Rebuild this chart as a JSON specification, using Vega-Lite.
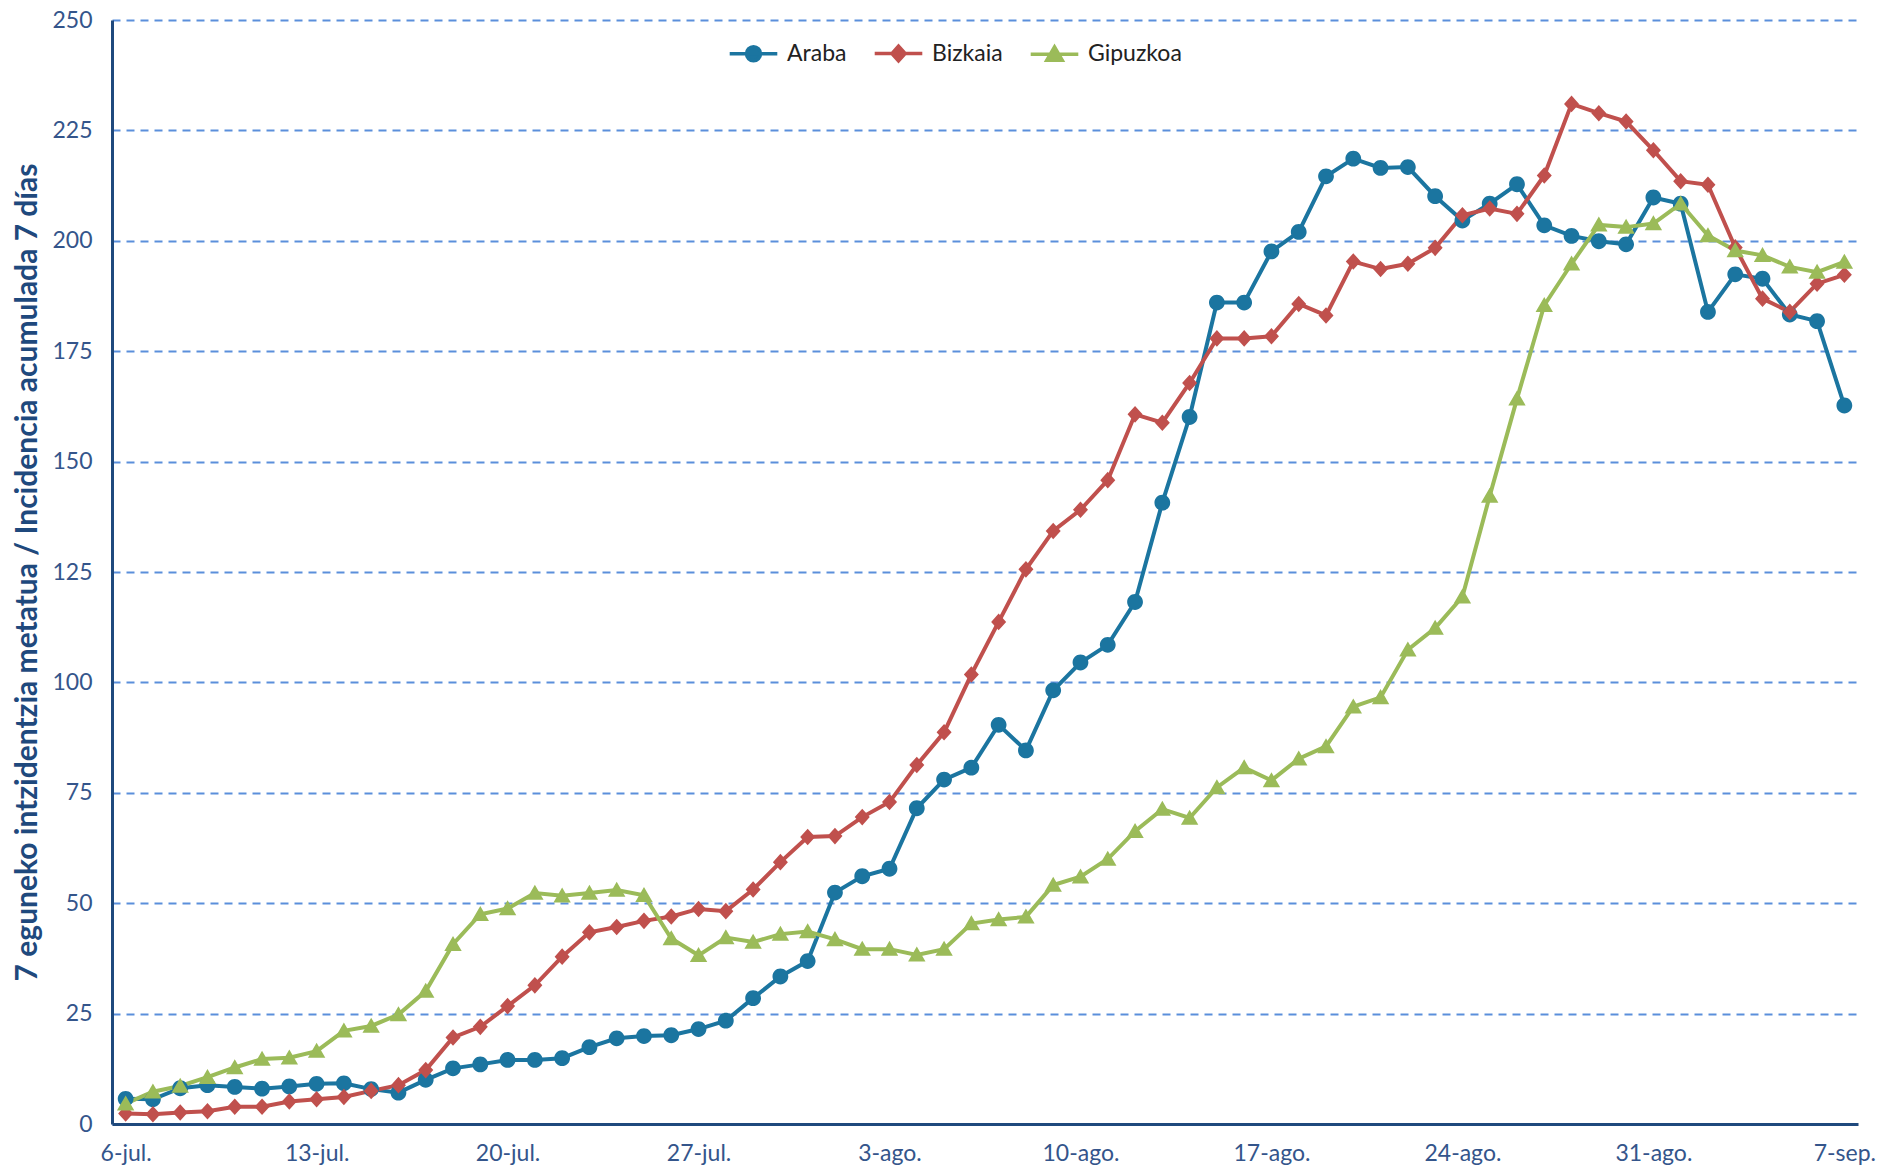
{
"$schema": "https://vega.github.io/schema/vega-lite/v6.json",
"width": 1746,
"height": 1104,
"autosize": {"type": "none"},
"padding": {"left": 112, "top": 20, "right": 23, "bottom": 49},
"background": "white",
"config": {"view": {"stroke": null}, "font": "Lato"},
"data": {"values": [
{"fecha":"2020-07-06","territorio":"Araba","valor":5.7},
{"fecha":"2020-07-07","territorio":"Araba","valor":5.6},
{"fecha":"2020-07-08","territorio":"Araba","valor":8.1},
{"fecha":"2020-07-09","territorio":"Araba","valor":8.8},
{"fecha":"2020-07-10","territorio":"Araba","valor":8.4},
{"fecha":"2020-07-11","territorio":"Araba","valor":8.0},
{"fecha":"2020-07-12","territorio":"Araba","valor":8.5},
{"fecha":"2020-07-13","territorio":"Araba","valor":9.1},
{"fecha":"2020-07-14","territorio":"Araba","valor":9.2},
{"fecha":"2020-07-15","territorio":"Araba","valor":7.9},
{"fecha":"2020-07-16","territorio":"Araba","valor":7.1},
{"fecha":"2020-07-17","territorio":"Araba","valor":10.0},
{"fecha":"2020-07-18","territorio":"Araba","valor":12.6},
{"fecha":"2020-07-19","territorio":"Araba","valor":13.5},
{"fecha":"2020-07-20","territorio":"Araba","valor":14.5},
{"fecha":"2020-07-21","territorio":"Araba","valor":14.5},
{"fecha":"2020-07-22","territorio":"Araba","valor":14.9},
{"fecha":"2020-07-23","territorio":"Araba","valor":17.4},
{"fecha":"2020-07-24","territorio":"Araba","valor":19.4},
{"fecha":"2020-07-25","territorio":"Araba","valor":19.9},
{"fecha":"2020-07-26","territorio":"Araba","valor":20.1},
{"fecha":"2020-07-27","territorio":"Araba","valor":21.5},
{"fecha":"2020-07-28","territorio":"Araba","valor":23.4},
{"fecha":"2020-07-29","territorio":"Araba","valor":28.5},
{"fecha":"2020-07-30","territorio":"Araba","valor":33.4},
{"fecha":"2020-07-31","territorio":"Araba","valor":36.9},
{"fecha":"2020-08-01","territorio":"Araba","valor":52.4},
{"fecha":"2020-08-02","territorio":"Araba","valor":56.1},
{"fecha":"2020-08-03","territorio":"Araba","valor":57.8},
{"fecha":"2020-08-04","territorio":"Araba","valor":71.5},
{"fecha":"2020-08-05","territorio":"Araba","valor":78.0},
{"fecha":"2020-08-06","territorio":"Araba","valor":80.7},
{"fecha":"2020-08-07","territorio":"Araba","valor":90.4},
{"fecha":"2020-08-08","territorio":"Araba","valor":84.6},
{"fecha":"2020-08-09","territorio":"Araba","valor":98.2},
{"fecha":"2020-08-10","territorio":"Araba","valor":104.5},
{"fecha":"2020-08-11","territorio":"Araba","valor":108.5},
{"fecha":"2020-08-12","territorio":"Araba","valor":118.2},
{"fecha":"2020-08-13","territorio":"Araba","valor":140.7},
{"fecha":"2020-08-14","territorio":"Araba","valor":160.1},
{"fecha":"2020-08-15","territorio":"Araba","valor":186.0},
{"fecha":"2020-08-16","territorio":"Araba","valor":186.0},
{"fecha":"2020-08-17","territorio":"Araba","valor":197.6},
{"fecha":"2020-08-18","territorio":"Araba","valor":202.0},
{"fecha":"2020-08-19","territorio":"Araba","valor":214.6},
{"fecha":"2020-08-20","territorio":"Araba","valor":218.6},
{"fecha":"2020-08-21","territorio":"Araba","valor":216.5},
{"fecha":"2020-08-22","territorio":"Araba","valor":216.7},
{"fecha":"2020-08-23","territorio":"Araba","valor":210.1},
{"fecha":"2020-08-24","territorio":"Araba","valor":204.6},
{"fecha":"2020-08-25","territorio":"Araba","valor":208.4},
{"fecha":"2020-08-26","territorio":"Araba","valor":212.8},
{"fecha":"2020-08-27","territorio":"Araba","valor":203.5},
{"fecha":"2020-08-28","territorio":"Araba","valor":201.1},
{"fecha":"2020-08-29","territorio":"Araba","valor":199.9},
{"fecha":"2020-08-30","territorio":"Araba","valor":199.2},
{"fecha":"2020-08-31","territorio":"Araba","valor":209.8},
{"fecha":"2020-09-01","territorio":"Araba","valor":208.4},
{"fecha":"2020-09-02","territorio":"Araba","valor":183.9},
{"fecha":"2020-09-03","territorio":"Araba","valor":192.4},
{"fecha":"2020-09-04","territorio":"Araba","valor":191.4},
{"fecha":"2020-09-05","territorio":"Araba","valor":183.3},
{"fecha":"2020-09-06","territorio":"Araba","valor":181.8},
{"fecha":"2020-09-07","territorio":"Araba","valor":162.7},
{"fecha":"2020-07-06","territorio":"Bizkaia","valor":2.4},
{"fecha":"2020-07-07","territorio":"Bizkaia","valor":2.2},
{"fecha":"2020-07-08","territorio":"Bizkaia","valor":2.6},
{"fecha":"2020-07-09","territorio":"Bizkaia","valor":2.9},
{"fecha":"2020-07-10","territorio":"Bizkaia","valor":3.9},
{"fecha":"2020-07-11","territorio":"Bizkaia","valor":3.9},
{"fecha":"2020-07-12","territorio":"Bizkaia","valor":5.1},
{"fecha":"2020-07-13","territorio":"Bizkaia","valor":5.6},
{"fecha":"2020-07-14","territorio":"Bizkaia","valor":6.1},
{"fecha":"2020-07-15","territorio":"Bizkaia","valor":7.5},
{"fecha":"2020-07-16","territorio":"Bizkaia","valor":8.8},
{"fecha":"2020-07-17","territorio":"Bizkaia","valor":12.2},
{"fecha":"2020-07-18","territorio":"Bizkaia","valor":19.6},
{"fecha":"2020-07-19","territorio":"Bizkaia","valor":22.0},
{"fecha":"2020-07-20","territorio":"Bizkaia","valor":26.7},
{"fecha":"2020-07-21","territorio":"Bizkaia","valor":31.4},
{"fecha":"2020-07-22","territorio":"Bizkaia","valor":37.9},
{"fecha":"2020-07-23","territorio":"Bizkaia","valor":43.4},
{"fecha":"2020-07-24","territorio":"Bizkaia","valor":44.6},
{"fecha":"2020-07-25","territorio":"Bizkaia","valor":46.0},
{"fecha":"2020-07-26","territorio":"Bizkaia","valor":47.0},
{"fecha":"2020-07-27","territorio":"Bizkaia","valor":48.7},
{"fecha":"2020-07-28","territorio":"Bizkaia","valor":48.2},
{"fecha":"2020-07-29","territorio":"Bizkaia","valor":53.1},
{"fecha":"2020-07-30","territorio":"Bizkaia","valor":59.3},
{"fecha":"2020-07-31","territorio":"Bizkaia","valor":65.0},
{"fecha":"2020-08-01","territorio":"Bizkaia","valor":65.2},
{"fecha":"2020-08-02","territorio":"Bizkaia","valor":69.5},
{"fecha":"2020-08-03","territorio":"Bizkaia","valor":72.9},
{"fecha":"2020-08-04","territorio":"Bizkaia","valor":81.3},
{"fecha":"2020-08-05","territorio":"Bizkaia","valor":88.7},
{"fecha":"2020-08-06","territorio":"Bizkaia","valor":101.8},
{"fecha":"2020-08-07","territorio":"Bizkaia","valor":113.7},
{"fecha":"2020-08-08","territorio":"Bizkaia","valor":125.6},
{"fecha":"2020-08-09","territorio":"Bizkaia","valor":134.3},
{"fecha":"2020-08-10","territorio":"Bizkaia","valor":139.1},
{"fecha":"2020-08-11","territorio":"Bizkaia","valor":145.8},
{"fecha":"2020-08-12","territorio":"Bizkaia","valor":160.7},
{"fecha":"2020-08-13","territorio":"Bizkaia","valor":158.8},
{"fecha":"2020-08-14","territorio":"Bizkaia","valor":167.8},
{"fecha":"2020-08-15","territorio":"Bizkaia","valor":177.9},
{"fecha":"2020-08-16","territorio":"Bizkaia","valor":177.9},
{"fecha":"2020-08-17","territorio":"Bizkaia","valor":178.4},
{"fecha":"2020-08-18","territorio":"Bizkaia","valor":185.7},
{"fecha":"2020-08-19","territorio":"Bizkaia","valor":183.1},
{"fecha":"2020-08-20","territorio":"Bizkaia","valor":195.3},
{"fecha":"2020-08-21","territorio":"Bizkaia","valor":193.6},
{"fecha":"2020-08-22","territorio":"Bizkaia","valor":194.8},
{"fecha":"2020-08-23","territorio":"Bizkaia","valor":198.4},
{"fecha":"2020-08-24","territorio":"Bizkaia","valor":205.8},
{"fecha":"2020-08-25","territorio":"Bizkaia","valor":207.3},
{"fecha":"2020-08-26","territorio":"Bizkaia","valor":206.1},
{"fecha":"2020-08-27","territorio":"Bizkaia","valor":214.8},
{"fecha":"2020-08-28","territorio":"Bizkaia","valor":231.0},
{"fecha":"2020-08-29","territorio":"Bizkaia","valor":228.9},
{"fecha":"2020-08-30","territorio":"Bizkaia","valor":227.0},
{"fecha":"2020-08-31","territorio":"Bizkaia","valor":220.5},
{"fecha":"2020-09-01","territorio":"Bizkaia","valor":213.5},
{"fecha":"2020-09-02","territorio":"Bizkaia","valor":212.7},
{"fecha":"2020-09-03","territorio":"Bizkaia","valor":198.5},
{"fecha":"2020-09-04","territorio":"Bizkaia","valor":186.9},
{"fecha":"2020-09-05","territorio":"Bizkaia","valor":183.9},
{"fecha":"2020-09-06","territorio":"Bizkaia","valor":190.3},
{"fecha":"2020-09-07","territorio":"Bizkaia","valor":192.3},
{"fecha":"2020-07-06","territorio":"Gipuzkoa","valor":4.6},
{"fecha":"2020-07-07","territorio":"Gipuzkoa","valor":7.3},
{"fecha":"2020-07-08","territorio":"Gipuzkoa","valor":8.6},
{"fecha":"2020-07-09","territorio":"Gipuzkoa","valor":10.6},
{"fecha":"2020-07-10","territorio":"Gipuzkoa","valor":12.8},
{"fecha":"2020-07-11","territorio":"Gipuzkoa","valor":14.7},
{"fecha":"2020-07-12","territorio":"Gipuzkoa","valor":15.0},
{"fecha":"2020-07-13","territorio":"Gipuzkoa","valor":16.5},
{"fecha":"2020-07-14","territorio":"Gipuzkoa","valor":21.1},
{"fecha":"2020-07-15","territorio":"Gipuzkoa","valor":22.2},
{"fecha":"2020-07-16","territorio":"Gipuzkoa","valor":24.8},
{"fecha":"2020-07-17","territorio":"Gipuzkoa","valor":30.1},
{"fecha":"2020-07-18","territorio":"Gipuzkoa","valor":40.7},
{"fecha":"2020-07-19","territorio":"Gipuzkoa","valor":47.5},
{"fecha":"2020-07-20","territorio":"Gipuzkoa","valor":48.8},
{"fecha":"2020-07-21","territorio":"Gipuzkoa","valor":52.3},
{"fecha":"2020-07-22","territorio":"Gipuzkoa","valor":51.7},
{"fecha":"2020-07-23","territorio":"Gipuzkoa","valor":52.3},
{"fecha":"2020-07-24","territorio":"Gipuzkoa","valor":53.0},
{"fecha":"2020-07-25","territorio":"Gipuzkoa","valor":51.8},
{"fecha":"2020-07-26","territorio":"Gipuzkoa","valor":42.0},
{"fecha":"2020-07-27","territorio":"Gipuzkoa","valor":38.2},
{"fecha":"2020-07-28","territorio":"Gipuzkoa","valor":42.2},
{"fecha":"2020-07-29","territorio":"Gipuzkoa","valor":41.2},
{"fecha":"2020-07-30","territorio":"Gipuzkoa","valor":43.0},
{"fecha":"2020-07-31","territorio":"Gipuzkoa","valor":43.6},
{"fecha":"2020-08-01","territorio":"Gipuzkoa","valor":41.8},
{"fecha":"2020-08-02","territorio":"Gipuzkoa","valor":39.6},
{"fecha":"2020-08-03","territorio":"Gipuzkoa","valor":39.6},
{"fecha":"2020-08-04","territorio":"Gipuzkoa","valor":38.3},
{"fecha":"2020-08-05","territorio":"Gipuzkoa","valor":39.6},
{"fecha":"2020-08-06","territorio":"Gipuzkoa","valor":45.4},
{"fecha":"2020-08-07","territorio":"Gipuzkoa","valor":46.3},
{"fecha":"2020-08-08","territorio":"Gipuzkoa","valor":46.9},
{"fecha":"2020-08-09","territorio":"Gipuzkoa","valor":54.1},
{"fecha":"2020-08-10","territorio":"Gipuzkoa","valor":56.0},
{"fecha":"2020-08-11","territorio":"Gipuzkoa","valor":60.0},
{"fecha":"2020-08-12","territorio":"Gipuzkoa","valor":66.3},
{"fecha":"2020-08-13","territorio":"Gipuzkoa","valor":71.3},
{"fecha":"2020-08-14","territorio":"Gipuzkoa","valor":69.3},
{"fecha":"2020-08-15","territorio":"Gipuzkoa","valor":76.2},
{"fecha":"2020-08-16","territorio":"Gipuzkoa","valor":80.7},
{"fecha":"2020-08-17","territorio":"Gipuzkoa","valor":77.8},
{"fecha":"2020-08-18","territorio":"Gipuzkoa","valor":82.7},
{"fecha":"2020-08-19","territorio":"Gipuzkoa","valor":85.5},
{"fecha":"2020-08-20","territorio":"Gipuzkoa","valor":94.5},
{"fecha":"2020-08-21","territorio":"Gipuzkoa","valor":96.6},
{"fecha":"2020-08-22","territorio":"Gipuzkoa","valor":107.4},
{"fecha":"2020-08-23","territorio":"Gipuzkoa","valor":112.3},
{"fecha":"2020-08-24","territorio":"Gipuzkoa","valor":119.4},
{"fecha":"2020-08-25","territorio":"Gipuzkoa","valor":142.2},
{"fecha":"2020-08-26","territorio":"Gipuzkoa","valor":164.2},
{"fecha":"2020-08-27","territorio":"Gipuzkoa","valor":185.4},
{"fecha":"2020-08-28","territorio":"Gipuzkoa","valor":194.8},
{"fecha":"2020-08-29","territorio":"Gipuzkoa","valor":203.6},
{"fecha":"2020-08-30","territorio":"Gipuzkoa","valor":203.1},
{"fecha":"2020-08-31","territorio":"Gipuzkoa","valor":203.9},
{"fecha":"2020-09-01","territorio":"Gipuzkoa","valor":208.4},
{"fecha":"2020-09-02","territorio":"Gipuzkoa","valor":201.2},
{"fecha":"2020-09-03","territorio":"Gipuzkoa","valor":197.8},
{"fecha":"2020-09-04","territorio":"Gipuzkoa","valor":196.7},
{"fecha":"2020-09-05","territorio":"Gipuzkoa","valor":194.1},
{"fecha":"2020-09-06","territorio":"Gipuzkoa","valor":192.9},
{"fecha":"2020-09-07","territorio":"Gipuzkoa","valor":195.2}
]},
"encoding": {
  "x": {"field": "fecha", "type": "temporal",
    "scale": {"type": "utc", "domain": [1593950400000, 1599480000000]},
    "axis": {"title": null, "grid": false, "ticks": false,
      "values": [1593993600000, 1594598400000, 1595203200000, 1595808000000, 1596412800000, 1597017600000, 1597622400000, 1598227200000, 1598832000000, 1599436800000],
      "labelExpr": "utcdate(datum.value) + '-' + (utcmonth(datum.value) == 6 ? 'jul.' : utcmonth(datum.value) == 7 ? 'ago.' : 'sep.')",
      "domainColor": "#1F497D", "domainWidth": 3,
      "labelColor": "#34558B", "labelFontSize": 23, "labelPadding": 18, "labelFont": "Lato", "labelOverlap": false, "labelFlush": false}},
  "y": {"field": "valor", "type": "quantitative",
    "scale": {"domain": [0, 250], "nice": false, "zero": true},
    "axis": {"title": "7 eguneko intzidentzia metatua / Incidencia acumulada  7 días",
      "titleFontSize": 30, "titleFontWeight": "bold", "titleColor": "#1F497D", "titleFont": "Lato", "titlePadding": 9,
      "values": [0, 25, 50, 75, 100, 125, 150, 175, 200, 225, 250],
      "grid": true, "gridDash": [8, 6], "gridColor": "#5B8FDB", "gridWidth": 2,
      "ticks": false, "domainColor": "#1F497D", "domainWidth": 3,
      "labelColor": "#34558B", "labelFontSize": 23, "labelPadding": 20, "labelFont": "Lato"}}
},
"layer": [
  {"mark": {"type": "line", "strokeWidth": 4},
   "encoding": {
     "color": {"field": "territorio", "type": "nominal",
       "scale": {"domain": ["Araba", "Bizkaia", "Gipuzkoa"], "range": ["#1B75A0", "#C0504D", "#9BBB59"]},
       "legend": {"orient": "none", "legendX": 630, "legendY": 22, "direction": "horizontal", "title": null, "padding": 0,
         "symbolSize": 196, "symbolStrokeWidth": 3.5, "labelOffset": 22, "columnPadding": 20, "labelFontSize": 23, "labelColor": "#222222", "labelFont": "Lato"}}
   }},
  {"mark": {"type": "point", "filled": true, "size": 250, "opacity": 1, "strokeWidth": 0},
   "encoding": {
     "color": {"field": "territorio", "type": "nominal",
       "scale": {"domain": ["Araba", "Bizkaia", "Gipuzkoa"], "range": ["#1B75A0", "#C0504D", "#9BBB59"]},
       "legend": {"orient": "none", "legendX": 630, "legendY": 22, "direction": "horizontal", "title": null, "padding": 0,
         "symbolSize": 196, "symbolStrokeWidth": 3.5, "labelOffset": 22, "columnPadding": 20, "labelFontSize": 23, "labelColor": "#222222", "labelFont": "Lato"}},
     "shape": {"field": "territorio", "type": "nominal",
       "scale": {"domain": ["Araba", "Bizkaia", "Gipuzkoa"], "range": ["M-3.4,0L3.4,0M1,0A1,1,0,1,1,-1,0A1,1,0,1,1,1,0Z", "M-3.4,0L3.4,0M-0.95,0L0,-1.05L0.95,0L0,1.05Z", "M-3.4,0L3.4,0M0,-1.05L1.1,0.85L-1.1,0.85Z"]},
       "legend": {"orient": "none", "legendX": 630, "legendY": 22, "direction": "horizontal", "title": null, "padding": 0,
         "symbolSize": 196, "symbolStrokeWidth": 3.5, "labelOffset": 22, "columnPadding": 20, "labelFontSize": 23, "labelColor": "#222222", "labelFont": "Lato"}},
     "stroke": {"field": "territorio", "type": "nominal",
       "scale": {"domain": ["Araba", "Bizkaia", "Gipuzkoa"], "range": ["#1B75A0", "#C0504D", "#9BBB59"]},
       "legend": {"orient": "none", "legendX": 630, "legendY": 22, "direction": "horizontal", "title": null, "padding": 0,
         "symbolSize": 196, "symbolStrokeWidth": 3.5, "labelOffset": 22, "columnPadding": 20, "labelFontSize": 23, "labelColor": "#222222", "labelFont": "Lato"}}
   }}
]
}
